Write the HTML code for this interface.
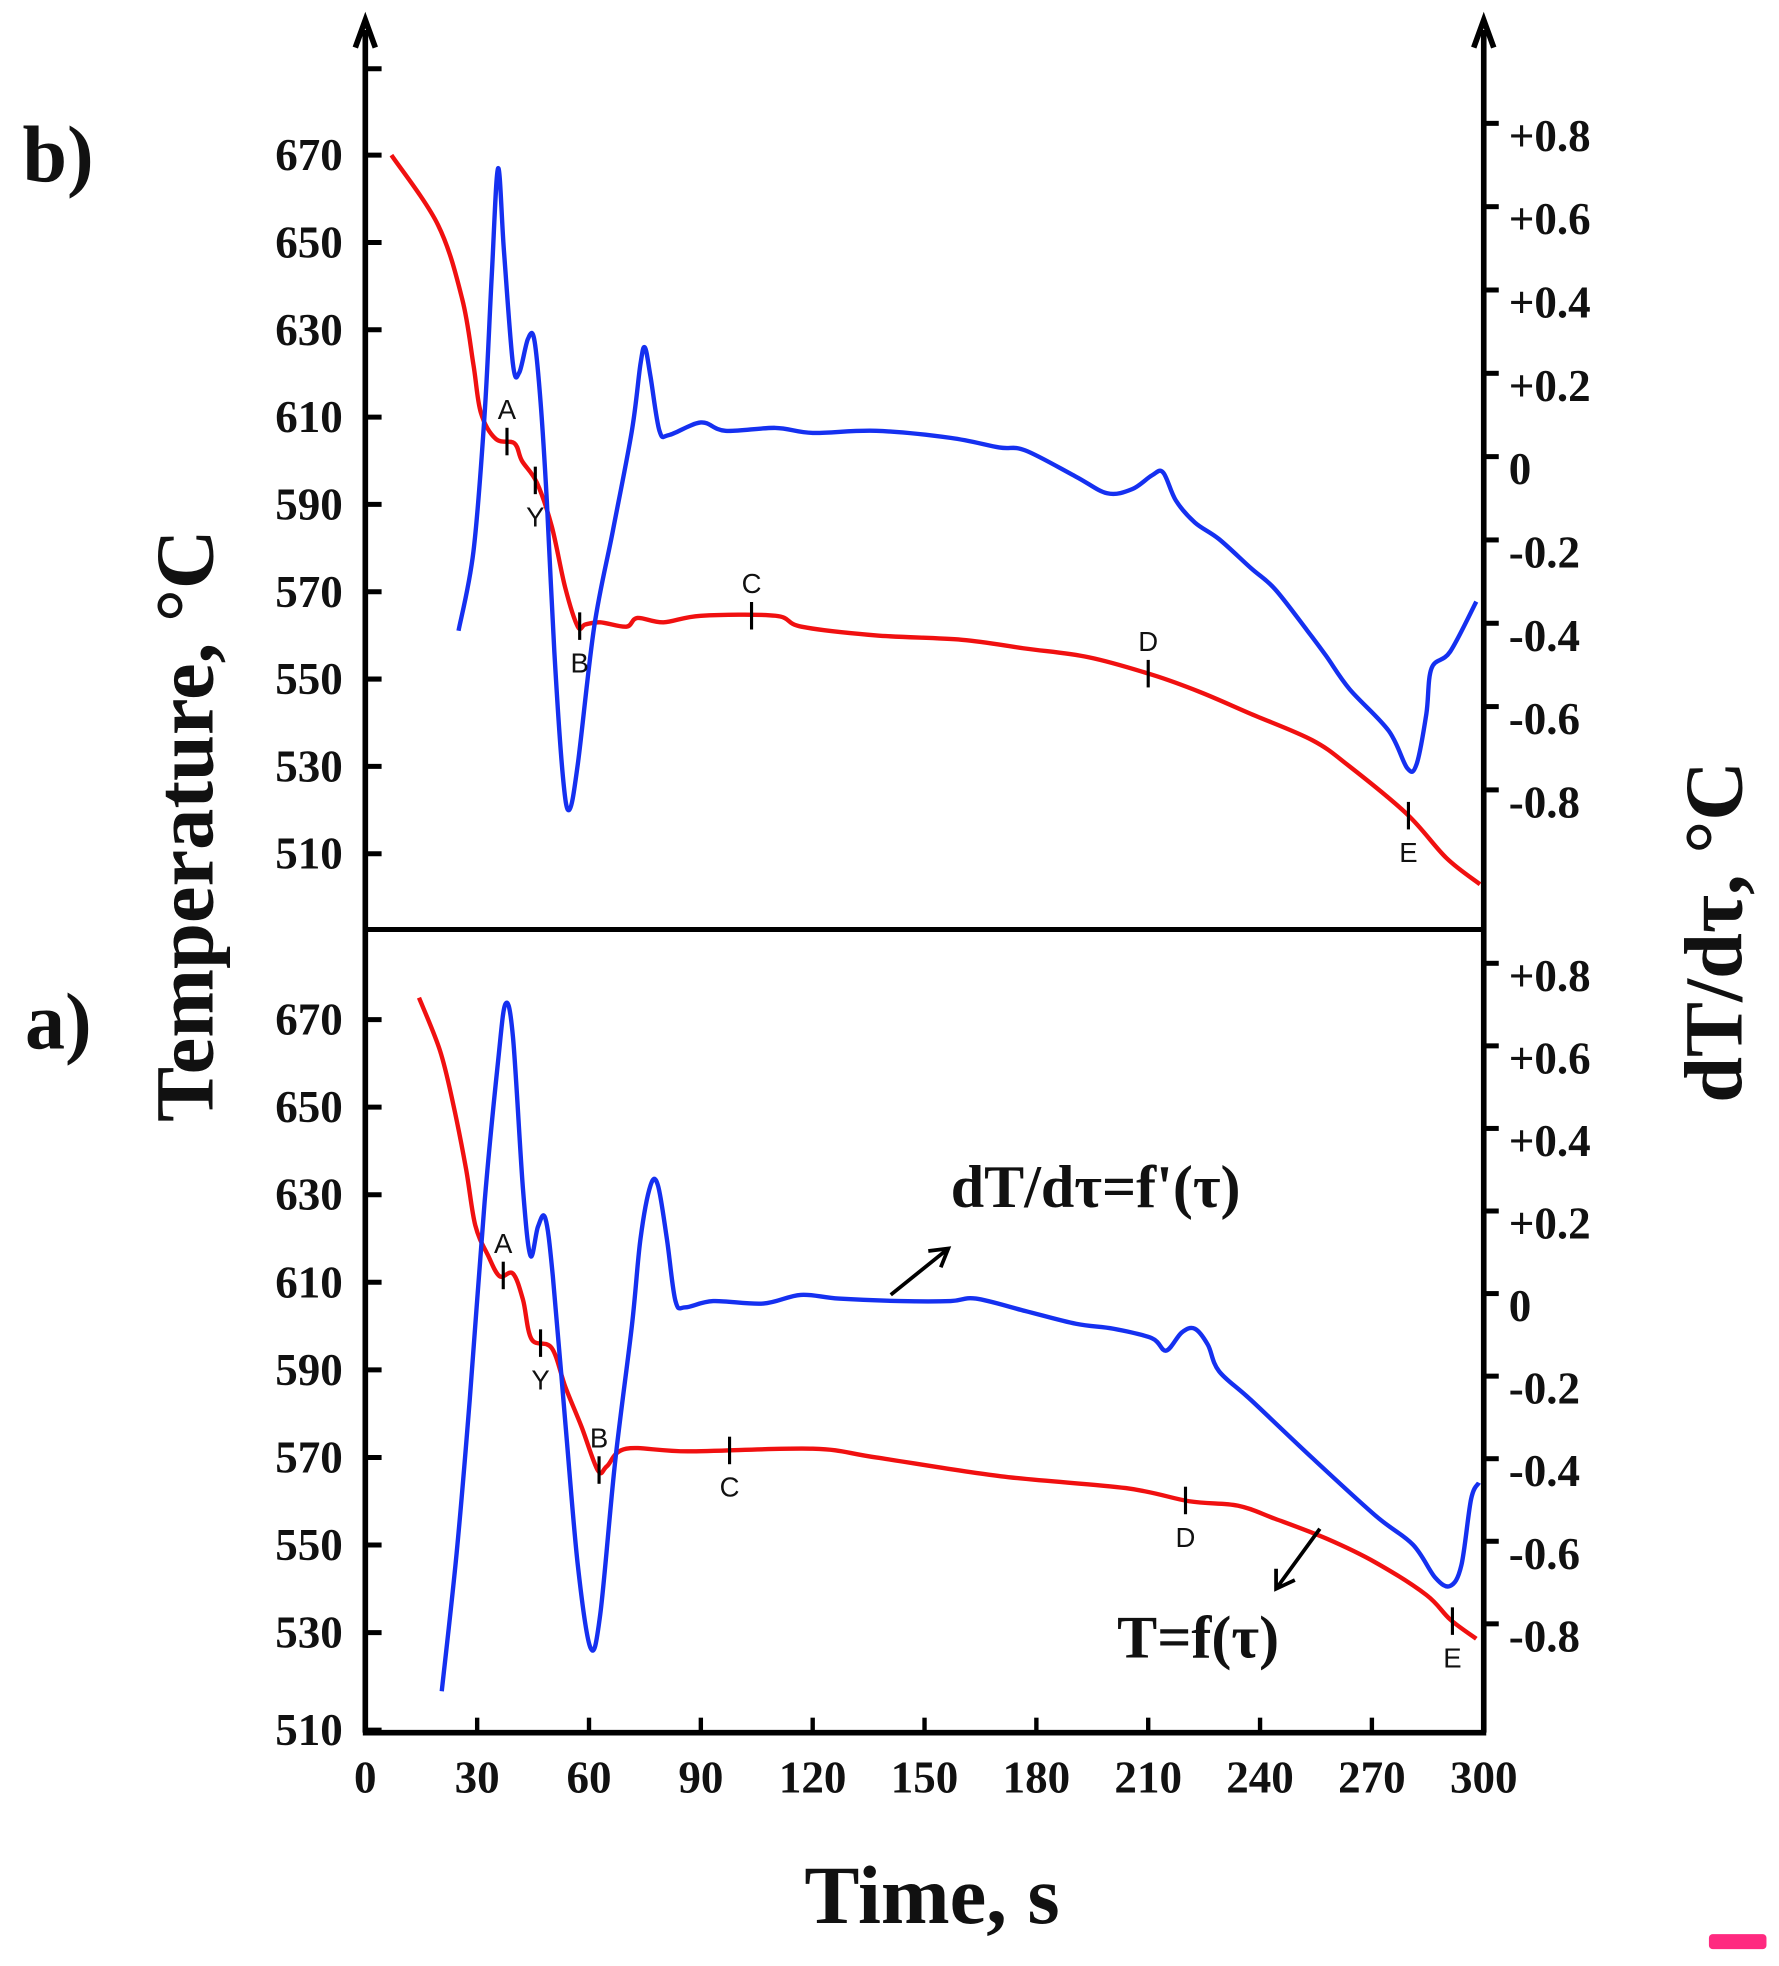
<!DOCTYPE html>
<html><head><meta charset="utf-8"><style>
html,body{margin:0;padding:0;background:#fff;}
svg{display:block;}
.tk{font-family:"Liberation Serif",serif;font-weight:bold;font-size:36px;fill:#111;}
.mk{font-family:"Liberation Sans",sans-serif;font-size:22px;fill:#111;}
.big{font-family:"Liberation Serif",serif;font-weight:bold;fill:#111;}
</style></head><body>
<svg id="chart" width="1779" height="1966" viewBox="0 0 1422 1571.5" xmlns="http://www.w3.org/2000/svg">
<g id="axes"></g>
<g id="marks"></g>
<g id="labels"></g>
</svg>
<script>
const xTicks=[0,30,60,90,120,150,180,210,240,270,300];
const tTicksB=[670,650,630,610,590,570,550,530,510];
const tTicksA=[670,650,630,610,590,570,550,530,510];
const dTicks=[0.8,0.6,0.4,0.2,0,-0.2,-0.4,-0.6,-0.8];
const dTickLabels=["+0.8","+0.6","+0.4","+0.2","0","-0.2","-0.4","-0.6","-0.8"];
// panel b
const bTempTime=[7,19.5,26,29,31,35,40,42,46,50,53.6,57,59,63,70,73,80,90,110,117,137,160,177,194,211,224,237.6,254,264,279.5,290,299];
const bTemp=[670,654,637,622,611,605,604,600,595,585,571,562,562.5,563,562,564,563,564.5,564.5,562,560,559,557,555,551,547,542,536,530,519,509,503];
const bDerTime=[25,29,32,33.9,35.6,37.2,39.6,41.3,43.6,45.3,47,48.7,50.7,53,54.7,57,61.4,66.4,71.5,73.8,75,76.5,78.9,81.5,90,96.6,110,120,137,157,170,177,190.6,199,205.7,211,214,217.4,222.5,229,237.6,244,252.7,257.7,264,274.5,279.5,282,284.6,286,291,298];
const bDer=[-0.40,-0.21,0.12,0.45,0.71,0.51,0.24,0.22,0.30,0.30,0.15,-0.09,-0.45,-0.75,-0.83,-0.72,-0.39,-0.16,0.08,0.24,0.28,0.21,0.08,0.07,0.10,0.08,0.087,0.075,0.08,0.063,0.04,0.033,-0.03,-0.07,-0.06,-0.027,-0.02,-0.087,-0.14,-0.18,-0.25,-0.30,-0.40,-0.46,-0.54,-0.64,-0.73,-0.72,-0.60,-0.49,-0.45,-0.33];
// panel a
const aTempTime=[14.4,20,23.5,27,29.5,33,36,39.6,42.3,44.6,50,53.7,58,62.4,64.8,70,86.6,120,137,170.5,204,221,234,244,258,271,284.6,291,298];
const aTemp=[675,663,651,636,623,616,611.4,612,606,597,595,586,577,567,568,572,571.4,572,570,565.7,563,560,559,556,551.4,546,538.6,533,528.6];
const aDerTime=[20.5,24.5,28,32,35.6,37.6,39.6,42.3,44.3,46.3,48.3,50.3,53.7,57,60.4,63,67,71.5,73.8,76.5,78.5,80.9,83.2,85.9,93.3,106.7,116.8,127,143.6,157,163.8,177,190.6,200.7,211,214.8,219,222.5,226,229,237.6,254,271,281,287,291,294,296.6,298.7];
const aDer=[-0.945,-0.61,-0.24,0.24,0.58,0.72,0.64,0.27,0.11,0.18,0.20,0.06,-0.30,-0.64,-0.84,-0.76,-0.39,-0.06,0.15,0.28,0.28,0.15,0,-0.015,0,-0.006,0.015,0.006,0,0,0.006,-0.024,-0.055,-0.067,-0.09,-0.12,-0.076,-0.067,-0.106,-0.17,-0.24,-0.38,-0.52,-0.59,-0.67,-0.69,-0.64,-0.48,-0.44];
const bMarkers=[["A",38],["Y",45.6],["B",57.5],["C",103.6],["D",210],["E",279.8]];
const aMarkers=[["A",37],["Y",47],["B",62.7],["C",97.7],["D",220],["E",291.6]];

const NS="http://www.w3.org/2000/svg";
const X=t=>292+t*2.98;
const TB=T=>124+(670-T)*3.49;
const DB=v=>371-v*333;
const TA=T=>815+(670-T)*3.5;
const DA=v=>1040-v*330;
const axes=document.getElementById('axes'),marks=document.getElementById('marks'),labels=document.getElementById('labels');
function mk(tag,attrs,parent,text){const e=document.createElementNS(NS,tag);for(const k in attrs)e.setAttribute(k,attrs[k]);if(text!==undefined)e.textContent=text;parent.appendChild(e);return e;}
function line(x1,y1,x2,y2,w,p,name){const e=mk('line',{x1,y1,x2,y2,stroke:'#000','stroke-width':w},p);

return e;}
function smooth(pts){let d=`M${pts[0][0]},${pts[0][1]}`;for(let i=0;i<pts.length-1;i++){const p0=pts[i-1]||pts[i],p1=pts[i],p2=pts[i+1],p3=pts[i+2]||p2;
d+=` C${p1[0]+(p2[0]-p0[0])/6},${p1[1]+(p2[1]-p0[1])/6} ${p2[0]-(p3[0]-p1[0])/6},${p2[1]-(p3[1]-p1[1])/6} ${p2[0]},${p2[1]}`;}return d;}
function series(ts,vs,fy,color,name){const pts=ts.map((t,i)=>[X(t),fy(vs[i])]);const e=mk('path',{d:smooth(pts),fill:'none',stroke:color,'stroke-width':3.5,'stroke-linejoin':'round'},marks);

}
// axes
line(292,24,292,1385,4.5,axes,'left-axis');
line(1186,24,1186,1385,4.5,axes,'right-axis');
line(290,1385,1188,1385,4.5,axes,'x-axis');
line(292,743,1186,743,4,axes,'panel-divider');
const ar1=mk('path',{d:'M284,38 L292,16 L300,38',fill:'none',stroke:'#000','stroke-width':4.5},axes);


const ar2=mk('path',{d:'M1178,38 L1186,16 L1194,38',fill:'none',stroke:'#000','stroke-width':4.5},axes);


line(292,55,305,55,4,axes,'left-tick-top');
xTicks.forEach(t=>{line(X(t),1385,X(t),1373,3.5,axes,'x-tick');
const e=mk('text',{x:X(t),y:1433,'text-anchor':'middle',class:'tk'},labels,String(t));

});
tTicksB.forEach(T=>{line(292,TB(T),305,TB(T),4,axes,'left-tick-b');
const e=mk('text',{x:274,y:TB(T)+12,'text-anchor':'end',class:'tk'},labels,String(T));

});
tTicksA.forEach(T=>{const y=T===510?1383:TA(T);line(292,y,305,y,4,axes,'left-tick-a');
const e=mk('text',{x:274,y:y+12,'text-anchor':'end',class:'tk'},labels,String(T));

});
dTicks.forEach((v,i)=>{[[DB(v)-6,'b'],[DA(v)-6,'a']].forEach(([y,p])=>{line(1186,y,1198,y,4,axes,'right-tick-'+p);
const e=mk('text',{x:1206,y:y+22,class:'tk'},labels,dTickLabels[i]);

});});
// series
series(bTempTime,bTemp,TB,'#f01010','temperature-curve-b');
series(bDerTime,bDer,DB,'#1530f0','derivative-curve-b');
series(aTempTime,aTemp,TA,'#f01010','temperature-curve-a');
series(aDerTime,aDer,DA,'#1530f0','derivative-curve-a');
// markers
function interp(ts,vs,t){for(let i=0;i<ts.length-1;i++)if(t>=ts[i]&&t<=ts[i+1])return vs[i]+(vs[i+1]-vs[i])*(t-ts[i])/(ts[i+1]-ts[i]);return vs[vs.length-1];}
function markers(list,ts,vs,fy){list.forEach(([n,t],i)=>{const y=fy(interp(ts,vs,t));const x=X(t);
line(x,y-11,x,y+11,2.5,marks,'point-marker-'+n.toLowerCase());
const above=(n==='A'||n==='C'&&fy===TB||n==='D'&&fy===TB||n==='B'&&fy===TA);
const e=mk('text',{x:x,y:above?y-18:y+37,'text-anchor':'middle',class:'mk'},labels,n);

});}
markers(bMarkers,bTempTime,bTemp,TB);
markers(aMarkers,aTempTime,aTemp,TA);
// texts
function txt(s,attrs,name){const e=mk('text',attrs,labels,s);

return e;}
txt('b)',{x:18,y:145,class:'big','font-size':64},'panel-b-label');
txt('a)',{x:20,y:838,class:'big','font-size':64},'panel-a-label');
txt('Temperature, °C',{x:0,y:0,class:'big','font-size':66,'text-anchor':'middle',transform:'translate(170,660) rotate(-90)'},'y-axis-title-left');
txt('dT/dτ, °C',{x:0,y:0,class:'big','font-size':66,'text-anchor':'middle',transform:'translate(1392,745) rotate(-90)'},'y-axis-title-right');
txt('Time, s',{x:745,y:1537,class:'big','font-size':66,'text-anchor':'middle'},'x-axis-title');
txt("dT/dτ=f'(τ)",{x:760,y:965,class:'big','font-size':48},'derivative-annotation');
txt('T=f(τ)',{x:893,y:1325,class:'big','font-size':48},'temperature-annotation');
const a1=mk('path',{d:'M712,1035 L758,998 M742,1000 L758,998 L752,1013',fill:'none',stroke:'#000','stroke-width':3},labels);


const a2=mk('path',{d:'M1055,1222 L1020,1270 M1020,1254 L1020,1270 L1035,1263',fill:'none',stroke:'#000','stroke-width':3},labels);


const bd=mk('rect',{x:1366,y:1546,width:46,height:12,rx:3,fill:'#ff2a80'},labels);


</script>
</body></html>
